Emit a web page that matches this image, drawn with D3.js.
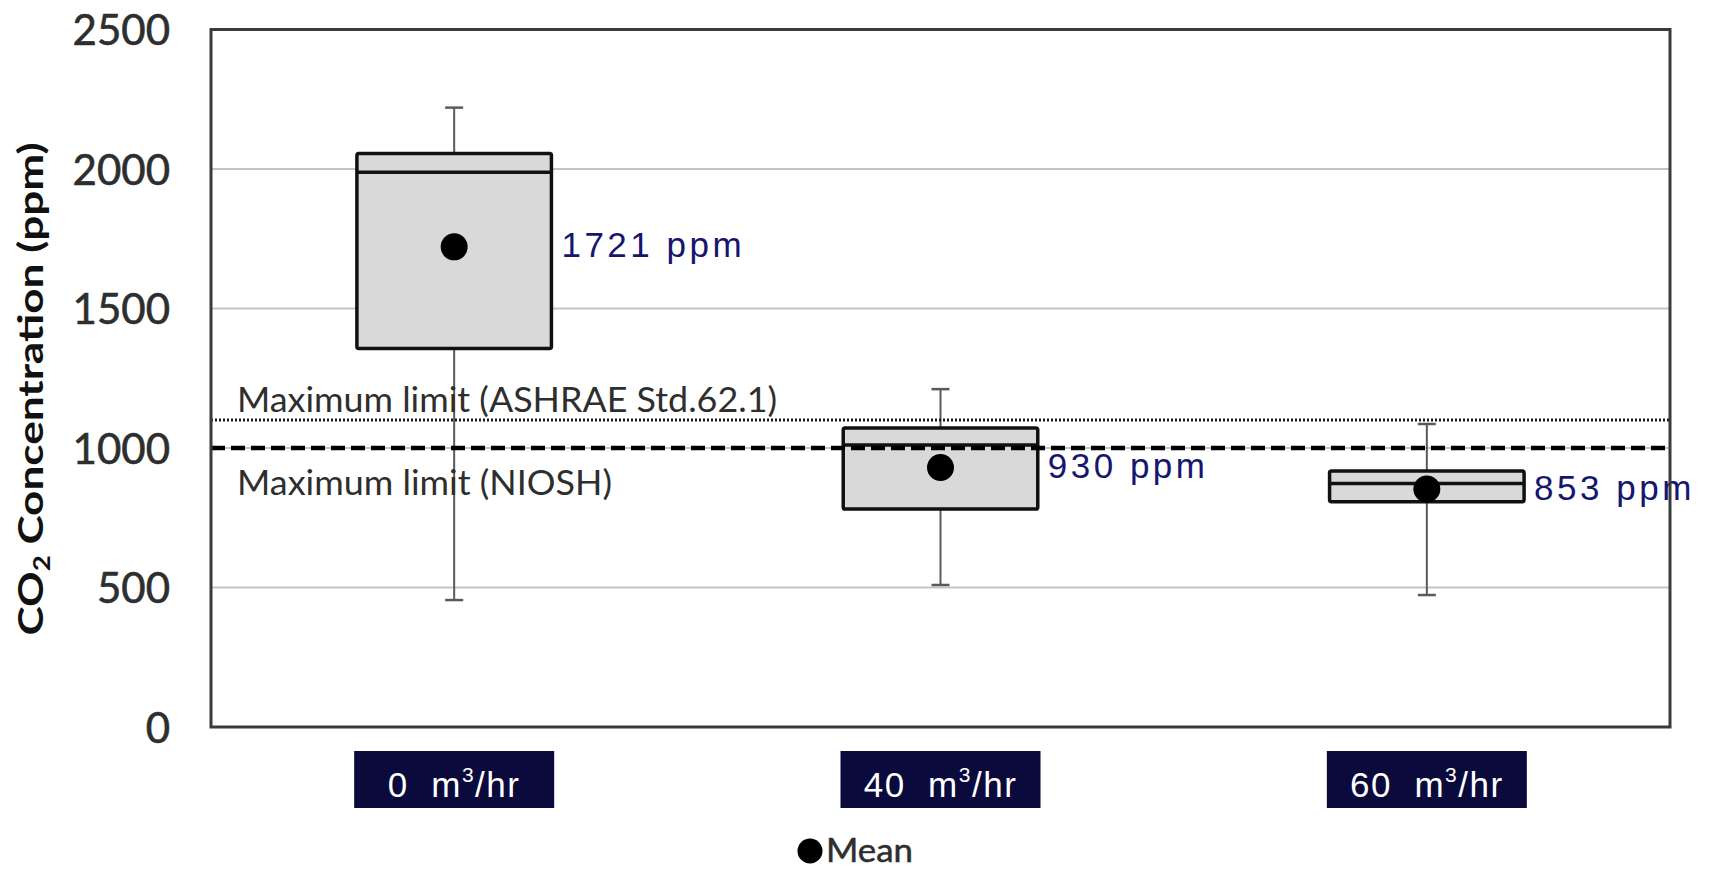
<!DOCTYPE html>
<html>
<head>
<meta charset="utf-8">
<script src="https://cdn.jsdelivr.net/npm/d3@7"></script>
<style>
  html, body { margin: 0; padding: 0; background: #ffffff; }
  svg { display: block; }
</style>
</head>
<body>
<svg id="chart" width="1717" height="869"></svg>
<script>
// ---- data ----
const categories = ["0", "40", "60"];
const whiskerLow = [455, 509, 473];
const q1 = [1357, 781, 807];
const median = [1988, 1011, 873];
const q3 = [2056, 1072, 918];
const whiskerHigh = [2220, 1211, 1086];
const means = [1721, 930, 853];
const meanLabels = ["1721 ppm", "930 ppm", "853 ppm"];
const yTicks = [0, 500, 1000, 1500, 2000, 2500];
const limitValues = [1100, 1000];
const limitLabels = ["Maximum limit (ASHRAE Std.62.1)", "Maximum limit (NIOSH)"];
const legendLabel = "Mean";

// ---- layout ----
const plot = { left: 211, right: 1670, top: 29.5, bottom: 727 };

const svg = d3.select("#chart");

const x = d3.scaleBand().domain(categories).range([plot.left, plot.right]).paddingInner(0).paddingOuter(0);
const y = d3.scaleLinear().domain([0, 2500]).range([plot.bottom, plot.top]);

const boxW = x.bandwidth() * 0.4;
const cx = c => x(c) + x.bandwidth() / 2;

const rows = categories.map((c, i) => ({
  c, lo: whiskerLow[i], q1: q1[i], med: median[i], q3: q3[i], hi: whiskerHigh[i], mean: means[i], label: meanLabels[i]
}));

// gridlines
svg.append("g")
  .selectAll("line")
  .data(yTicks.filter(t => t > 0 && t < 2500))
  .join("line")
  .attr("x1", plot.left).attr("x2", plot.right)
  .attr("y1", d => y(d)).attr("y2", d => y(d))
  .attr("stroke", "#c4c4c4").attr("stroke-width", 2);

// y axis tick labels via d3.axisLeft
const yAxis = d3.axisLeft(y).tickValues(yTicks).tickSize(0).tickPadding(41).tickFormat(d3.format("d"));
const gy = svg.append("g").attr("transform", `translate(${plot.left},0)`).call(yAxis);
gy.select(".domain").remove();
gy.selectAll("text")
  .attr("font-family", "Lato, 'Open Sans', sans-serif")
  .attr("font-size", 42)
  .attr("fill", "#2e2e2e")
  .attr("stroke", "#2e2e2e").attr("stroke-width", 0.6)
  .attr("dy", "0.36em");

// whiskers
const wg = svg.append("g");
wg.selectAll("line.stem")
  .data(rows).join("line").attr("class", "stem")
  .attr("x1", d => cx(d.c)).attr("x2", d => cx(d.c))
  .attr("y1", d => y(d.lo)).attr("y2", d => y(d.hi))
  .attr("stroke", "#5a5a5a").attr("stroke-width", 2);
wg.selectAll("line.capHi")
  .data(rows).join("line").attr("class", "capHi")
  .attr("x1", d => cx(d.c) - 9).attr("x2", d => cx(d.c) + 9)
  .attr("y1", d => y(d.hi)).attr("y2", d => y(d.hi))
  .attr("stroke", "#5a5a5a").attr("stroke-width", 2.5);
wg.selectAll("line.capLo")
  .data(rows).join("line").attr("class", "capLo")
  .attr("x1", d => cx(d.c) - 9).attr("x2", d => cx(d.c) + 9)
  .attr("y1", d => y(d.lo)).attr("y2", d => y(d.lo))
  .attr("stroke", "#5a5a5a").attr("stroke-width", 2.5);

// boxes
svg.append("g").selectAll("rect")
  .data(rows).join("rect")
  .attr("x", d => cx(d.c) - boxW / 2)
  .attr("width", boxW)
  .attr("y", d => y(d.q3))
  .attr("height", d => y(d.q1) - y(d.q3))
  .attr("rx", 2)
  .attr("fill", "#d9d9d9")
  .attr("stroke", "#111111").attr("stroke-width", 3.5);

// medians
svg.append("g").selectAll("line")
  .data(rows).join("line")
  .attr("x1", d => cx(d.c) - boxW / 2).attr("x2", d => cx(d.c) + boxW / 2)
  .attr("y1", d => y(d.med)).attr("y2", d => y(d.med))
  .attr("stroke", "#111111").attr("stroke-width", 3.5);

// limit lines
svg.append("line")
  .attr("x1", plot.left).attr("x2", plot.right)
  .attr("y1", y(limitValues[0])).attr("y2", y(limitValues[0]))
  .attr("stroke", "#1a1a1a").attr("stroke-width", 3).attr("stroke-dasharray", "2,2");
svg.append("line")
  .attr("x1", plot.left).attr("x2", plot.right)
  .attr("y1", y(limitValues[1])).attr("y2", y(limitValues[1]))
  .attr("stroke", "#000000").attr("stroke-width", 4.5).attr("stroke-dasharray", "14,6");

// limit labels
svg.append("text")
  .attr("x", 237).attr("y", y(limitValues[0]) - 8)
  .attr("font-family", "Lato, 'Open Sans', sans-serif")
  .attr("font-size", 34).attr("fill", "#2e2e2e")
  .attr("textLength", 540).attr("lengthAdjust", "spacingAndGlyphs")
  .text(limitLabels[0]);
svg.append("text")
  .attr("x", 237).attr("y", y(limitValues[1]) + 47)
  .attr("font-family", "Lato, 'Open Sans', sans-serif")
  .attr("font-size", 34).attr("fill", "#2e2e2e")
  .attr("textLength", 375).attr("lengthAdjust", "spacingAndGlyphs")
  .text(limitLabels[1]);

// means
svg.append("g").selectAll("circle")
  .data(rows).join("circle")
  .attr("cx", d => cx(d.c)).attr("cy", d => y(d.mean))
  .attr("r", 13.5).attr("fill", "#000000");

// mean labels
svg.append("g").selectAll("text")
  .data(rows).join("text")
  .attr("x", d => cx(d.c) + boxW / 2 + 10)
  .attr("y", d => y(d.mean) - 2)
  .attr("dy", "0.36em")
  .attr("font-family", "'Liberation Sans', Arial, sans-serif")
  .attr("font-size", 35)
  .attr("letter-spacing", 3.5)
  .attr("fill", "#16166e")
  .text(d => d.label);

// plot frame
svg.append("rect")
  .attr("x", plot.left).attr("y", plot.top)
  .attr("width", plot.right - plot.left).attr("height", plot.bottom - plot.top)
  .attr("fill", "none").attr("stroke", "#3a3a3a").attr("stroke-width", 3);

// category labels (dark boxes)
const cg = svg.append("g").selectAll("g")
  .data(categories).join("g")
  .attr("transform", c => `translate(${cx(c)},0)`);
cg.append("rect")
  .attr("x", -100).attr("y", 751).attr("width", 200).attr("height", 57)
  .attr("fill", "#0a0a3c");
const ct = cg.append("text")
  .attr("x", 0).attr("y", 797)
  .attr("text-anchor", "middle")
  .attr("font-family", "'Liberation Sans', Arial, sans-serif")
  .attr("font-size", 35)
  .attr("letter-spacing", 1.5)
  .attr("fill", "#ffffff");
ct.append("tspan").text(c => c + "\u00a0 m");
ct.append("tspan").attr("font-size", 21).attr("dy", -15).text("3");
ct.append("tspan").attr("dy", 15).text("/hr");

// y axis title
const yt = svg.append("text")
  .attr("transform", `translate(43,389) rotate(-90)`)
  .attr("text-anchor", "middle")
  .attr("font-family", "Lato, 'Open Sans', sans-serif")
  .attr("font-weight", "bold")
  .attr("font-size", 35)
  .attr("fill", "#111111")
  .attr("textLength", 493).attr("lengthAdjust", "spacingAndGlyphs");
yt.append("tspan").text("CO");
yt.append("tspan").attr("font-size", 22).attr("dy", 7).text("2");
yt.append("tspan").attr("dy", -7).text(" Concentration (ppm)");

// legend
svg.append("circle").attr("cx", 810).attr("cy", 851).attr("r", 12.5).attr("fill", "#000000");
svg.append("text")
  .attr("x", 826).attr("y", 862)
  .attr("font-family", "Lato, 'Open Sans', sans-serif")
  .attr("font-size", 32).attr("fill", "#2e2e2e")
  .attr("stroke", "#2e2e2e").attr("stroke-width", 0.5)
  .attr("textLength", 87).attr("lengthAdjust", "spacingAndGlyphs")
  .text(legendLabel);
</script>
</body>
</html>
